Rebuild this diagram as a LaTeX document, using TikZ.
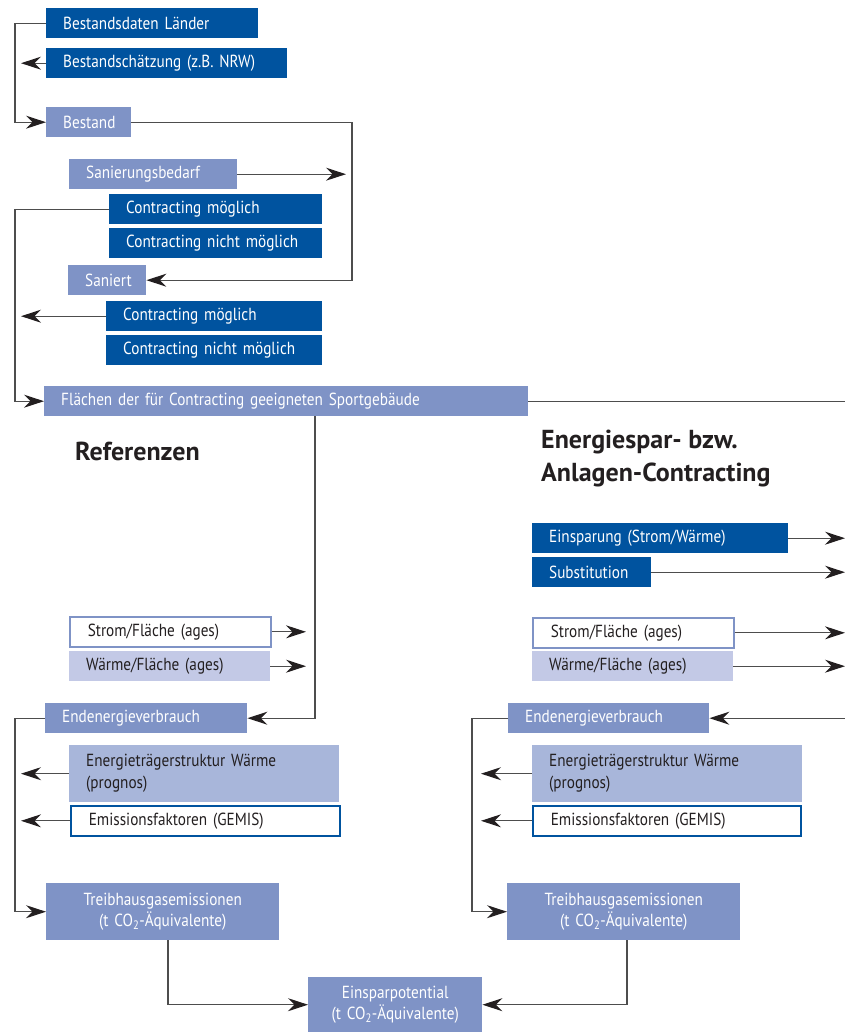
\documentclass[tikz,border=0pt]{standalone}
\usepackage{fontspec}
\setmainfont{PT Sans}[FakeStretch=0.87]
\newfontfamily\headfont{PT Sans}
\usepackage{xcolor}
\usetikzlibrary{arrows.meta}
\definecolor{dark}{HTML}{00539F}
\definecolor{mid}{HTML}{7F93C6}
\definecolor{light}{HTML}{A8B6DA}
\definecolor{pale}{HTML}{C3C9E6}
\definecolor{ink}{HTML}{231F20}
\definecolor{wire}{HTML}{4D4D4D}
\tikzset{
  box/.style={rectangle, anchor=north west, inner xsep=17pt, inner ysep=0pt, minimum height=30pt, align=left, font=\fontsize{17.5}{22}\selectfont},
  dk/.style={box, fill=dark, text=white},
  md/.style={box, fill=mid, text=white},
  lt/.style={box, fill=light, text=ink},
  pl/.style={box, fill=pale, text=ink},
  wt/.style={box, fill=white, draw=mid, line width=1.6pt, text=ink},
  wd/.style={box, fill=white, draw=dark, line width=1.6pt, text=ink},
  ctr/.style={align=center, inner xsep=0pt, font=\fontsize{17.5}{21}\selectfont},
  ln/.style={draw=wire, line width=1.2pt},
  arr/.style={ln, arrows={-Stealth[length=20pt,width=13pt,inset=6.5pt,fill=ink,color=ink]}},
  hd/.style={anchor=west, inner sep=0pt, align=left, text=ink, font=\headfont\fontsize{26}{33}\selectfont\bfseries},
}

\begin{document}
\begin{tikzpicture}[x=1pt,y=-1pt]
  \useasboundingbox (0,0) rectangle (845,1033);
  % bus lines and free arrow ends
  \coordinate (lb) at (15,0);
  \coordinate (tl) at (21,0);
  \coordinate (rb1) at (352,0);
  \coordinate (ts) at (346,0);
  \coordinate (mb) at (315,0);
  \coordinate (tm) at (306,0);
  \coordinate (re) at (845,0);
  \coordinate (rb) at (472,0);
  \coordinate (tr) at (481,0);
  \coordinate (bl) at (168,0);
  \coordinate (br) at (627,0);
  % Bestand
  \node[dk, text width=178pt] (bdl) at (46,8) {Bestandsdaten Länder};
  \node[dk, text width=207pt] (bsz) at (46,48) {Bestandschätzung (z.B. NRW)};
  \node[md, text width=51pt] (bst) at (46,107) {Bestand};
  \node[md, text width=134pt] (snb) at (69,159) {Sanierungsbedarf};
  \node[dk, text width=179pt] (cm1) at (109,194) {Contracting möglich};
  \node[dk, text width=179pt] (cn1) at (109,228) {Contracting nicht möglich};
  \node[md, text width=44pt] (snt) at (68,265) {Saniert};
  \node[dk, text width=182pt] (cm2) at (106,301) {Contracting möglich};
  \node[dk, text width=182pt] (cn2) at (106,335) {Contracting nicht möglich};
  \node[md, text width=450pt] (fls) at (44,386) {Flächen der für Contracting geeigneten Sportgebäude};
  \draw[arr] (bdl.west) -| (lb |- bst.west) -- (bst.west);
  \draw[arr] (bsz.west) -- (bsz.west -| tl);
  \draw[arr] (bst.east) -| (rb1 |- snt.east) -- (snt.east);
  \draw[arr] (snb.east) -- (snb.east -| ts);
  \draw[arr] (cm1.west) -| (lb |- fls.west) -- (fls.west);
  \draw[arr] (cm2.west) -- (cm2.west -| tl);
  \draw[ln] (fls.east) -- (fls.east -| re);
  % Referenzen
  \node[hd] (hr) at (75,451) {Referenzen};
  \node[wt, text width=165pt, inner xsep=18pt] (sf1) at (69,616) {Strom/Fläche (ages)};
  \node[pl, text width=167pt] (wf1) at (69,651) {Wärme/Fläche (ages)};
  \node[md, text width=168pt] (ee1) at (45,703) {Endenergieverbrauch};
  \node[lt, text width=236pt, minimum height=57pt] (et1) at (69,745) {Energieträgerstruktur Wärme\\(prognos)};
  \node[wd, text width=233pt, inner xsep=18pt] (ef1) at (70,805) {Emissionsfaktoren (GEMIS)};
  \node[md, ctr, text width=233pt, minimum height=57pt] (th1) at (46,883) {Treibhausgasemissionen\\(t CO\textsubscript{2}-Äquivalente)};
  \draw[arr] (sf1.east) -- (sf1.east -| tm);
  \draw[arr] (wf1.east) -- (wf1.east -| tm);
  \draw[arr] (fls.south -| mb) |- (ee1.east);
  \draw[arr] (ee1.west) -| (lb |- th1.west) -- (th1.west);
  \draw[arr] (et1.west) -- (et1.west -| tl);
  \draw[arr] (ef1.west) -- (ef1.west -| tl);
  % Contracting
  \node[hd] (hc) at (541,459) {Energiespar- bzw.\\Anlagen-Contracting};
  \node[dk, text width=222pt] (ein) at (532,523) {Einsparung (Strom/Wärme)};
  \node[dk, text width=85pt] (sub) at (532,557) {Substitution};
  \node[wt, text width=165pt, inner xsep=18pt] (sf2) at (532,617) {Strom/Fläche (ages)};
  \node[pl, text width=167pt] (wf2) at (532,651) {Wärme/Fläche (ages)};
  \node[md, text width=167pt] (ee2) at (508,703) {Endenergieverbrauch};
  \node[lt, text width=236pt, minimum height=57pt] (et2) at (532,745) {Energieträgerstruktur Wärme\\(prognos)};
  \node[wd, text width=232pt, inner xsep=18pt] (ef2) at (532,805) {Emissionsfaktoren (GEMIS)};
  \node[md, ctr, text width=233pt, minimum height=57pt] (th2) at (507,883) {Treibhausgasemissionen\\(t CO\textsubscript{2}-Äquivalente)};
  \draw[arr] (ein.east) -- (ein.east -| re);
  \draw[arr] (sub.east) -- (sub.east -| re);
  \draw[arr] (sf2.east) -- (sf2.east -| re);
  \draw[arr] (wf2.east) -- (wf2.east -| re);
  \draw[arr] (re |- ee2.east) -- (ee2.east);
  \draw[arr] (ee2.west) -| (rb |- th2.west) -- (th2.west);
  \draw[arr] (et2.west) -- (et2.west -| tr);
  \draw[arr] (ef2.west) -- (ef2.west -| tr);
  % Einsparpotential
  \node[md, ctr, text width=174pt, minimum height=55pt] (esp) at (308,977) {Einsparpotential\\(t CO\textsubscript{2}-Äquivalente)};
  \draw[arr] (th1.south -| bl) |- (esp.west);
  \draw[arr] (th2.south -| br) |- (esp.east);
\end{tikzpicture}
\end{document}
